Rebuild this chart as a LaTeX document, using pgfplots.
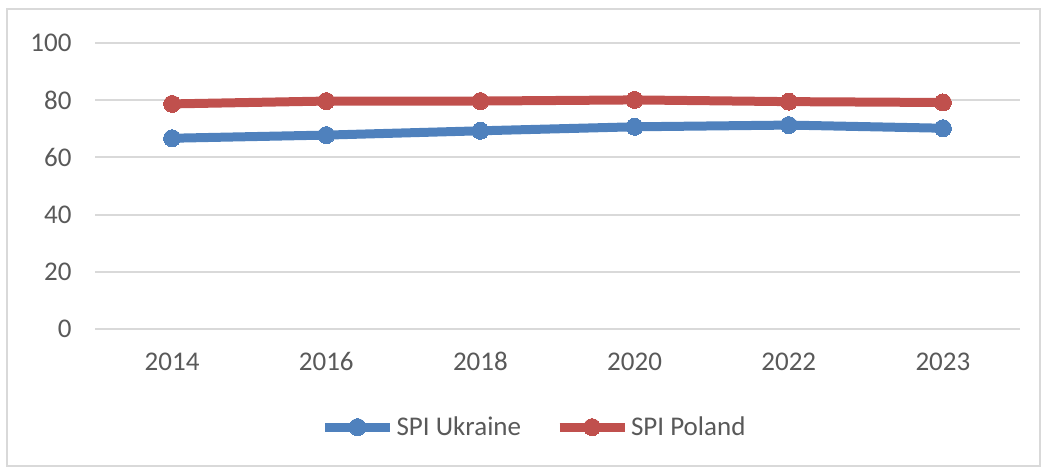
\documentclass[border=0pt]{standalone}
\usepackage{fontspec}
\setmainfont{Carlito}
\usepackage{pgfplots}
\pgfplotsset{compat=1.18}
\definecolor{ublue}{HTML}{4F81BD}
\definecolor{pred}{HTML}{C0504D}
\definecolor{gridc}{HTML}{D9D9D9}
\definecolor{txt}{HTML}{595959}
\begin{document}
\begin{tikzpicture}[x=1pt,y=1pt]
\useasboundingbox (0,0) rectangle (1047,467);
\draw[gridc, line width=2pt] (7,1) rectangle (1040,458);
\begin{axis}[
  at={(95pt,138pt)}, anchor=south west,
  scale only axis, width=925pt, height=286pt,
  xmin=-0.5, xmax=5.5, ymin=0, ymax=100,
  xtick={0,1,2,3,4,5},
  xticklabels={2014,2016,2018,2020,2022,2023},
  ytick={0,20,40,60,80,100},
  axis line style={draw=none},
  major tick length=0pt,
  ymajorgrids, grid style={gridc, line width=2pt},
  tick label style={font=\fontsize{27}{31}\selectfont, text=txt},
  /pgf/number format/assume math mode=true,
  yticklabel style={xshift=-20pt},
  xticklabel style={yshift=-20pt},
  clip=false,
  legend columns=2,
  legend style={draw=none, at={(0.4746,-0.343)}, anchor=center,
    font=\fontsize{27}{31}\selectfont, text=txt,
    /tikz/every even column/.append style={column sep=32pt}},
  legend image code/.code={
    \draw[#1, mark=none] (0pt,0pt) -- (65pt,0pt);
    \draw[#1, only marks] plot coordinates {(32.5pt,0pt)};
  },
]
\addplot[ublue, line width=9pt, mark=*, mark size=8.5pt, mark options={line width=0pt}] coordinates {
(0,66.7) (1,67.8) (2,69.3) (3,70.7) (4,71.3) (5,70.2)};
\addlegendentry{SPI Ukraine}
\addplot[pred, line width=9pt, mark=*, mark size=8.5pt, mark options={line width=0pt}] coordinates {
(0,78.7) (1,79.7) (2,79.7) (3,80.1) (4,79.5) (5,79.2)};
\addlegendentry{SPI Poland}
\end{axis}
\end{tikzpicture}
\end{document}
